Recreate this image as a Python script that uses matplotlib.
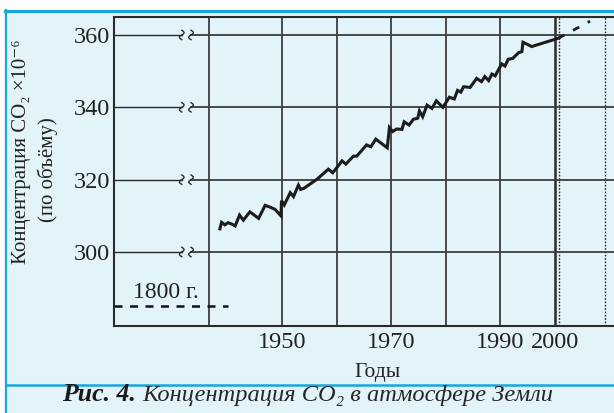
import numpy as np
import matplotlib
matplotlib.use("Agg")
import matplotlib.pyplot as plt
from matplotlib.patches import Rectangle
from matplotlib.lines import Line2D

# Данные (год, CO2 в ppm)
years = [1938.6, 1938.9, 1939.5, 1940.1, 1940.8, 1941.4, 1942.2, 1942.9, 1944.1, 1945.7,
         1946.9, 1947.8, 1948.7, 1949.8, 1949.9, 1950.4, 1951.5, 1952.1, 1953.0, 1953.4,
         1954.0, 1956.4, 1958.5, 1959.3, 1960.3, 1961.0, 1961.7, 1963.1, 1963.7, 1965.5,
         1966.3, 1967.2, 1969.3, 1969.7, 1970.3, 1971.0, 1972.0, 1972.4, 1973.3, 1974.1,
         1974.9, 1975.2, 1975.8, 1976.6, 1977.5, 1978.3, 1979.5, 1980.7, 1981.6, 1982.2,
         1982.8, 1983.3, 1984.5, 1985.7, 1986.6, 1987.2, 1987.9, 1988.5, 1989.1, 1990.0,
         1990.3, 1990.9, 1991.5, 1992.3, 1993.4, 1994.0, 1994.2, 1995.8, 2000.7]
co2 = [306.4, 308.2, 307.5, 308.1, 307.7, 307.2, 310.2, 308.8, 311.1, 309.3,
       312.9, 312.4, 311.8, 310.0, 314.2, 313.0, 316.4, 315.3, 318.5, 317.3,
       317.6, 320.1, 322.9, 321.9, 323.8, 325.2, 324.3, 326.5, 326.5, 329.6,
       329.1, 331.2, 328.8, 334.4, 333.3, 334.0, 333.9, 336.0, 335.1, 336.7,
       337.0, 339.0, 337.4, 340.6, 339.7, 341.8, 340.0, 342.8, 342.3, 344.7,
       344.2, 345.7, 345.5, 348.0, 347.1, 348.5, 347.4, 349.2, 348.7, 351.2,
       352.0, 351.4, 353.3, 353.5, 355.1, 355.4, 358.0, 356.8, 359.1]

# прогноз (пунктир)
proj_years = [2000.7, 2006.5]
proj_co2 = [359.1, 363.8]

# уровень 1800 г.
level_1800 = 285
level_1800_end = 1940

yticks = [300, 320, 340, 360]
xtick_years = [1950, 1970, 1990, 2000]
xtick_labels = ["1950", "1970", "1990", "2000"]
vlines_solid = [1936.6, 1950, 1960, 1970, 1980, 1990]
vline_2000 = 2000
vlines_dotted = [2000.8, 2009.2]
break_x = [1931.6, 1933.3]

W, H = 614, 413
def fx(px):
    return px / W
def fy(py):
    return 1 - py / H

BG = "#e3f3fa"
BLUE = "#17a6de"
DARK = "#2b2b2b"
GRID = "#3c3c3c"
TXT = "#222222"
serif = ["Liberation Serif", "DejaVu Serif"]

fig = plt.figure(figsize=(W / 100, H / 100), dpi=100)
fig.patch.set_facecolor("white")
renderer = fig.canvas.get_renderer()

def fit_width(txt, target_px):
    # подгоняем размер шрифта под ширину текста на картинке
    w = txt.get_window_extent(renderer).width
    txt.set_fontsize(txt.get_fontsize() * target_px / w)

# фон и рамка
fig.patches.append(Rectangle((fx(5), 0), 1, fy(10), transform=fig.transFigure,
                             facecolor=BG, edgecolor="none", zorder=-5))
fig.lines.append(Line2D([fx(5), 1], [fy(10.5), fy(10.5)], transform=fig.transFigure,
                        color=BLUE, lw=2.3))
fig.lines.append(Line2D([fx(6), fx(6)], [0, fy(10)], transform=fig.transFigure,
                        color=BLUE, lw=1.6))
fig.lines.append(Line2D([fx(6), 1], [fy(384.5), fy(384.5)], transform=fig.transFigure,
                        color=BLUE, lw=1.8))

ax = fig.add_axes([fx(114), fy(326), (620 - 114) / W, (326 - 17) / H])
ax.set_facecolor("none")
ax.set_xlim(1919.17, 2012.0)
ax.set_ylim(279.54, 364.97)

for s in ["left", "bottom", "top"]:
    ax.spines[s].set_color(DARK)
    ax.spines[s].set_linewidth(1.5)
ax.spines["right"].set_visible(False)

# вертикальные линии сетки
for x in vlines_solid:
    ax.axvline(x, color=GRID, lw=1.3, zorder=1)
ax.axvline(vline_2000, color=DARK, lw=1.8, zorder=1)
for x in vlines_dotted:
    ax.axvline(x, color=DARK, lw=1.0, ls=(0, (1.2, 1.2)), zorder=1)

# горизонтальные линии с разрывом
x0, x1 = ax.get_xlim()
t = np.linspace(-1, 1, 30)
for y in yticks:
    ax.plot([x0, break_x[0]], [y, y], color=DARK, lw=1.0, zorder=1)
    ax.plot([break_x[1], x1], [y, y], color=GRID, lw=1.3, zorder=1)
    for bx in break_x:
        ax.plot(bx + 0.42 * np.sin(np.pi * t), y + 1.3 * t, color=DARK, lw=1.0, zorder=1)

# уровень 1800 г.
ax.plot([x0, level_1800_end], [level_1800, level_1800], color="#111111", lw=1.8,
        ls=(0, (3.2, 3.0)), zorder=2)
ax.text(1928.7, 288.7, "1800 г.", family=serif, fontsize=17, ha="center",
        va="center", color=TXT)

# кривая концентрации
ax.plot(years, co2, color="#1c1c1c", lw=2.2, solid_joinstyle="miter", zorder=3)
ax.plot(proj_years, proj_co2, color="#1c1c1c", lw=2.0, ls=(0, (2.5, 3.5)), zorder=3)

ax.set_yticks(yticks)
ax.set_yticklabels([str(v) for v in yticks], family=serif, fontsize=17.5, color=TXT)
ax.set_xticks(xtick_years)
ax.set_xticklabels(xtick_labels, family=serif, fontsize=17.5, color=TXT)
ax.tick_params(axis="both", length=0)
ax.tick_params(axis="y", pad=3)
ax.tick_params(axis="x", pad=4)

# подписи осей
fig.text(fx(378), fy(372), "Годы", family=serif, fontsize=15.5, ha="center",
         va="center", color=TXT)
fig.text(fx(22), fy(152), "Концентрация CO₂ ×10⁻⁶", family=serif, fontsize=15,
         rotation=90, ha="center", va="center", color=TXT)
fig.text(fx(48), fy(170), "(по объёму)", family=serif, fontsize=15,
         rotation=90, ha="center", va="center", color=TXT)

# подпись рисунка
cap1 = fig.text(fx(62), fy(401), "Рис. 4.", family=serif, fontsize=15, weight="bold",
                style="italic", ha="left", va="baseline", color="#1a1a1a")
cap2 = fig.text(fx(142), fy(401), "Концентрация CO₂ в атмосфере Земли", family=serif,
                fontsize=15, style="italic", ha="left", va="baseline", color="#262626")
fit_width(cap1, 74)
fit_width(cap2, 412)

fig.savefig("out.png", dpi=100, facecolor=fig.get_facecolor())
